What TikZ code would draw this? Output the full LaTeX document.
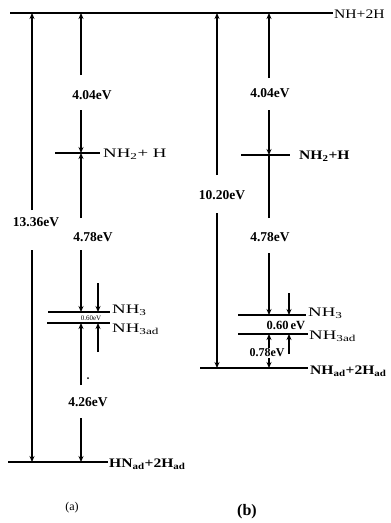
\documentclass[tikz,border=0pt]{standalone}
\usepackage{fontspec}
\setmainfont{Liberation Serif}
\newfontfamily\widefont[FakeStretch=1.45]{Liberation Serif}
\newfontfamily\widefontb[FakeStretch=1.2]{Liberation Serif}
\usetikzlibrary{arrows.meta}
\begin{document}
\begin{tikzpicture}[x=1pt,y=-1pt,
  lvl/.style={line width=1.5pt},
  seg/.style={line width=1.2pt},
  ar/.style={line width=1.2pt,-{Stealth[length=6pt,width=5pt]}},
  ev/.style={font=\fontsize{13.5}{15}\selectfont\bfseries, inner sep=0pt},
  sev/.style={font=\fontsize{7}{8}\selectfont, inner sep=0pt},
  mev/.style={font=\fontsize{12}{14}\selectfont\bfseries, inner sep=0pt},
  sp/.style={font=\widefont\fontsize{13}{15}\selectfont, inner sep=0pt, anchor=west},
  spb/.style={font=\widefontb\fontsize{13}{15}\selectfont\bfseries, inner sep=0pt, anchor=west},
  capt/.style={font=\fontsize{12}{14}\selectfont, inner sep=0pt}]
\useasboundingbox (0,0) rectangle (391,523);
% ---------- levels ----------
\coordinate (topL) at (10,13);
\coordinate (topR) at (333,13);
\draw[lvl] (topL) -- (topR);
\node[sp,font=\widefontb\fontsize{13}{15}\selectfont] (ltop) at (334,14) {NH+2H};
% (a)
\coordinate (a2L) at (55,153);  \coordinate (a2R) at (100,153);
\coordinate (a3L) at (48,312);  \coordinate (a3R) at (110,312);
\coordinate (a4L) at (47,323);  \coordinate (a4R) at (110,323);
\coordinate (a5L) at (8,462);   \coordinate (a5R) at (108,462);
\draw[lvl] (a2L) -- (a2R);
\draw[lvl] (a3L) -- (a3R);
\draw[lvl] (a4L) -- (a4R);
\draw[lvl] (a5L) -- (a5R);
\node[sp] (la2) at (103,154) {NH\textsubscript{2}+ H};
\node[sp] (la3) at (112,310) {NH\textsubscript{3}};
\node[sp] (la4) at (112,329) {NH\textsubscript{3ad}};
\node[spb] (la5) at (109,464) {HN\textsubscript{ad}+2H\textsubscript{ad}};
% (b)
\coordinate (b2L) at (241,155); \coordinate (b2R) at (290,155);
\coordinate (b3L) at (238,315); \coordinate (b3R) at (306,315);
\coordinate (b4L) at (238,334); \coordinate (b4R) at (308,334);
\coordinate (b5L) at (200,368); \coordinate (b5R) at (308,368);
\draw[lvl] (b2L) -- (b2R);
\draw[lvl] (b3L) -- (b3R);
\draw[lvl] (b4L) -- (b4R);
\draw[lvl] (b5L) -- (b5R);
\node[spb] (lb2) at (299,156) {NH\textsubscript{2}+H};
\node[sp] (lb3) at (308,313) {NH\textsubscript{3}};
\node[sp] (lb4) at (309,336) {NH\textsubscript{3ad}};
\node[spb] (lb5) at (310,371) {NH\textsubscript{ad}+2H\textsubscript{ad}};
% ---------- column (a) ----------
\coordinate (a1t) at (32,13);  \coordinate (a1g1) at (32,210);
\coordinate (a1g2) at (32,250); \coordinate (a1b) at (32,462);
\node[ev] (e1336) at (36,222) {13.36eV};
\draw[ar] (a1g1) -- (a1t);
\draw[ar] (a1g2) -- (a1b);

\coordinate (a2t) at (81,13);  \coordinate (a2g1) at (81,75);
\coordinate (a2g2) at (81,110); \coordinate (a2m) at (81,153);
\node[ev] (e404a) at (92,95) {4.04eV};
\draw[ar] (a2g1) -- (a2t);
\draw[ar] (a2g2) -- (a2m);
\coordinate (a2g3) at (81,218); \coordinate (a2g4) at (81,250);
\coordinate (a2n) at (81,312);
\node[ev] (e478a) at (93,237) {4.78eV};
\draw[ar] (a2g3) -- (a2m);
\draw[ar] (a2g4) -- (a2n);
\coordinate (a2p) at (81,323); \coordinate (a2g5) at (81,385);
\coordinate (a2g6) at (81,418); \coordinate (a2b) at (81,462);
\node[ev] (e426) at (88,402) {4.26eV};
\draw[ar] (a2g5) -- (a2p);
\draw[ar] (a2g6) -- (a2b);
\fill (88,378) circle (1pt);
% small arrows (a)
\coordinate (a3t) at (98,283); \coordinate (a3b) at (98,352);
\draw[ar] (a3t) -- (98,312);
\draw[ar] (a3b) -- (98,323);
\node[sev] (e060a) at (91,318) {0.60eV};
\node[capt] (capa) at (72,508) {(a)};
% ---------- column (b) ----------
\coordinate (b1t) at (217,13);  \coordinate (b1g1) at (217,175);
\coordinate (b1g2) at (217,213); \coordinate (b1b) at (217,368);
\node[ev] (e1020) at (222,195) {10.20eV};
\draw[ar] (b1g1) -- (b1t);
\draw[ar] (b1g2) -- (b1b);

\coordinate (b2t) at (269,13);  \coordinate (b2g1) at (269,78);
\coordinate (b2g2) at (269,110); \coordinate (b2m) at (269,155);
\node[ev] (e404b) at (270,93) {4.04eV};
\draw[ar] (b2g1) -- (b2t);
\draw[ar] (b2g2) -- (b2m);
\coordinate (b2g3) at (269,218); \coordinate (b2g4) at (269,253);
\coordinate (b2n) at (269,315);
\node[ev] (e478b) at (270,237) {4.78eV};
\draw[seg] (b2g3) -- (b2m);
\draw[ar] (b2g4) -- (b2n);
\coordinate (b2p) at (269,334); \coordinate (b2b) at (269,368);
\draw[ar] (269,350) -- (b2p);
\draw[ar] (269,350) -- (b2b);
\node[mev,fill=white,inner sep=0.5pt] (e078) at (267,353) {0.78eV};
% small arrows (b)
\coordinate (b3t) at (289,293); \coordinate (b3b) at (289,354);
\draw[ar] (b3t) -- (289,315);
\draw[ar] (b3b) -- (289,334);
\node[mev,font=\fontsize{12.5}{14}\selectfont\bfseries] (e060b) at (286,325) {0.60\,eV};
\node[capt,font=\fontsize{16}{18}\selectfont\bfseries] (capb) at (247,512) {(b)};
\end{tikzpicture}
\end{document}
